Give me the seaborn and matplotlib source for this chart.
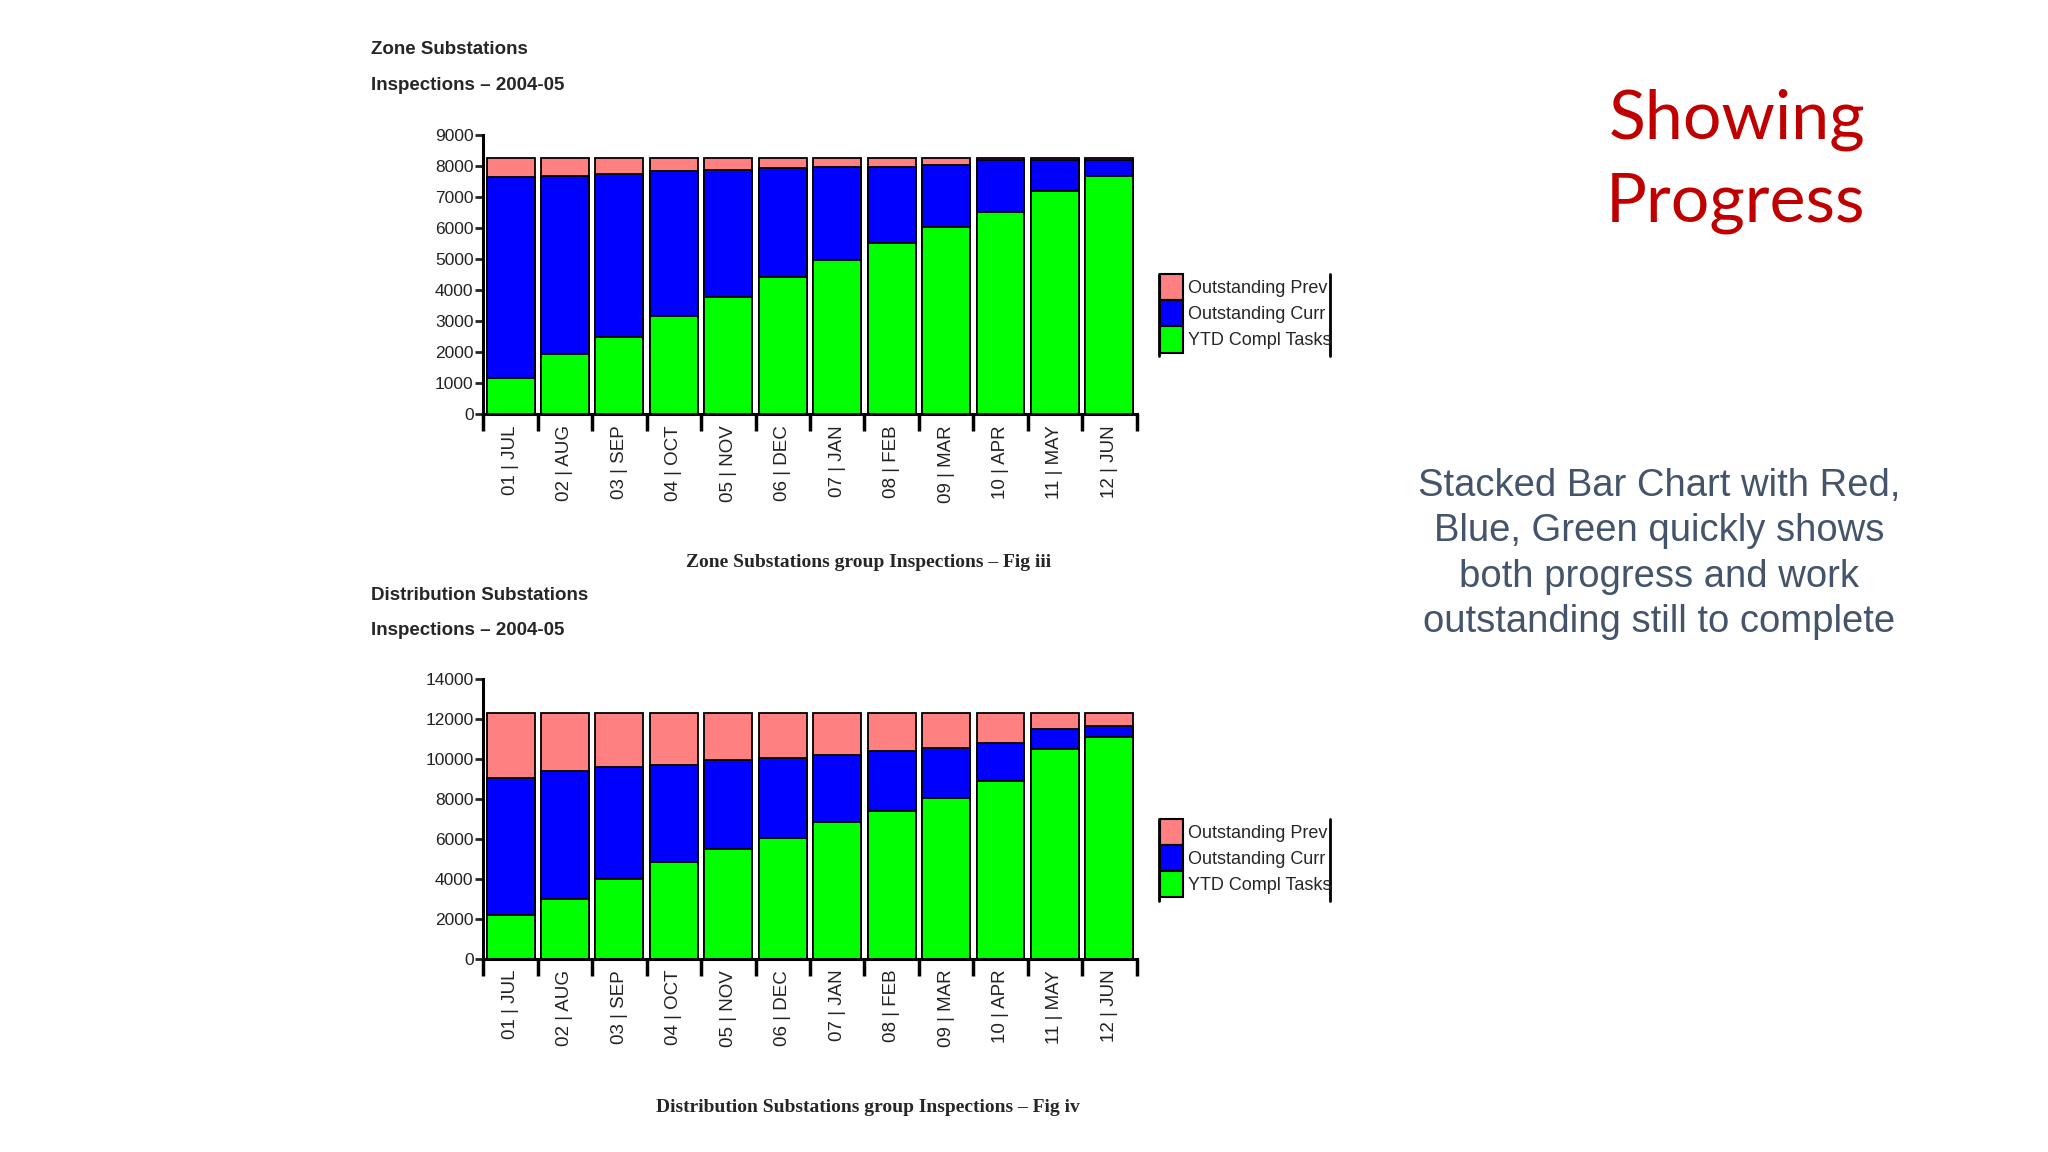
import matplotlib
matplotlib.use("Agg")
import matplotlib.pyplot as plt
import numpy as np
import pandas as pd
import seaborn as sns
from matplotlib.lines import Line2D
from matplotlib.patches import Patch

# Data
months = ["JUL", "AUG", "SEP", "OCT", "NOV", "DEC", "JAN", "FEB", "MAR", "APR", "MAY", "JUN"]
tick_labels = [f"{i + 1:02d} | {m}" for i, m in enumerate(months)]

zone_ytd = [1150, 1940, 2480, 3150, 3770, 4420, 4960, 5520, 6030, 6520, 7170, 7650]
zone_curr = [6480, 5710, 5260, 4690, 4100, 3500, 3010, 2450, 1980, 1670, 1020, 540]
zone_prev = [620, 600, 510, 410, 380, 330, 280, 280, 240, 60, 60, 60]

dist_ytd = [2180, 2970, 3970, 4860, 5500, 6070, 6840, 7410, 8050, 8920, 10480, 11100]
dist_curr = [6870, 6420, 5640, 4860, 4440, 3990, 3340, 2990, 2480, 1890, 1010, 550]
dist_prev = [3250, 2910, 2690, 2580, 2360, 2240, 2120, 1900, 1770, 1490, 810, 650]

series_names = ["Outstanding Prev", "Outstanding Curr", "YTD Compl Tasks"]
series_colors = ["#ff8080", "#0000ff", "#00ff00"]

sns.set_style("ticks")
plt.rcParams["font.family"] = ["Liberation Sans", "DejaVu Sans"]


def draw_panel(ax, ytd, curr, prev, ymax, ystep):
    df = pd.DataFrame({"month": tick_labels, "ytd": ytd, "curr": curr, "prev": prev})
    df["blue_top"] = df["ytd"] + df["curr"]
    df["total"] = df["blue_top"] + df["prev"]
    # layered bars give a stacked look: tallest first
    for col, color in zip(["total", "blue_top", "ytd"], series_colors):
        sns.barplot(data=df, x="month", y=col, color=color, width=0.88,
                    edgecolor="black", linewidth=1.3, saturation=1, ax=ax)

    ax.set_xlim(-0.5, len(months) - 0.5)
    ax.set_ylim(0, ymax)
    ax.set_yticks(np.arange(0, ymax + 1, ystep))
    ax.set_xticks(range(len(months)))
    ax.set_xticklabels(tick_labels, rotation=90, fontsize=13.5, color="#222222")
    ax.set_xticks(np.arange(-0.5, len(months), 1), minor=True)
    ax.tick_params(axis="x", which="major", length=0, pad=8)
    ax.tick_params(axis="x", which="minor", length=12, width=2.5, color="black")
    ax.tick_params(axis="y", length=6, width=2, pad=1, labelsize=12.5, labelcolor="#222222")
    ax.set_xlabel("")
    ax.set_ylabel("")
    sns.despine(ax=ax)
    for side in ["left", "bottom"]:
        ax.spines[side].set_linewidth(2.2)
        ax.spines[side].set_color("black")


fig = plt.figure(figsize=(20.48, 11.52), dpi=100)
ax1 = fig.add_axes([0.236, 0.6406, 0.319, 0.2426])
ax2 = fig.add_axes([0.236, 0.1678, 0.319, 0.2426])

draw_panel(ax1, zone_ytd, zone_curr, zone_prev, 9000, 1000)
draw_panel(ax2, dist_ytd, dist_curr, dist_prev, 14000, 2000)

handles = [Patch(facecolor=c, edgecolor="black", linewidth=1.5) for c in series_colors]
for top_y in [0.762, 0.289]:
    fig.legend(handles, series_names, loc="upper left", bbox_to_anchor=(0.5662, top_y),
               frameon=False, fontsize=13, handlelength=1.3, handleheight=1.85,
               handletextpad=0.3, labelspacing=0.0, borderpad=0, borderaxespad=0)
    fig.add_artist(Line2D([0.5657, 0.5657], [top_y, top_y - 0.071], color="black", lw=2))
    fig.add_artist(Line2D([0.6493, 0.6493], [top_y, top_y - 0.071], color="black", lw=2))

# headers and captions
serif = ["Liberation Serif", "DejaVu Serif"]
fig.text(0.1811, 0.957, "Zone Substations", fontsize=13.5, fontweight="bold", va="center")
fig.text(0.1811, 0.926, "Inspections \u2013 2004-05", fontsize=13.5, fontweight="bold", va="center")
fig.text(0.424, 0.5113, "Zone Substations group Inspections \u2013 Fig iii", fontsize=14,
         fontweight="bold", family=serif, ha="center", va="center")

fig.text(0.1811, 0.483, "Distribution Substations", fontsize=13.5, fontweight="bold", va="center")
fig.text(0.1811, 0.4524, "Inspections \u2013 2004-05", fontsize=13.5, fontweight="bold", va="center")
fig.text(0.424, 0.0385, "Distribution Substations group Inspections \u2013 Fig iv", fontsize=14,
         fontweight="bold", family=serif, ha="center", va="center")

fig.text(0.9107, 0.86, "Showing\nProgress", fontsize=49, color="#c00000", ha="right",
         va="center", family=["Lato", "DejaVu Sans"], linespacing=1.4)
fig.text(0.81, 0.519,
         "Stacked Bar Chart with Red,\nBlue, Green quickly shows\nboth progress and work\noutstanding still to complete",
         fontsize=27.5, color="#44546a", ha="center", va="center", linespacing=1.34)

fig.savefig("out.png", dpi=100, facecolor="white")
